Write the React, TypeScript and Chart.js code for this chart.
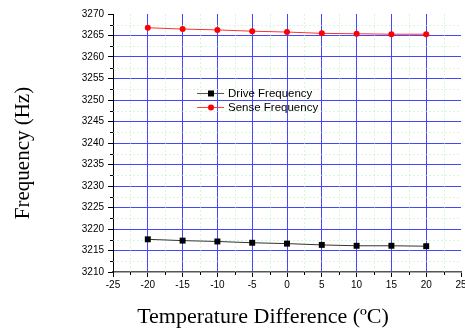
import React, { useEffect, useRef } from "react";
import { Chart, registerables } from "chart.js";

Chart.register(...registerables);

const temps = [-20, -15, -10, -5, 0, 5, 10, 15, 20];
const driveFreq = [3217.6, 3217.3, 3217.1, 3216.8, 3216.6, 3216.3, 3216.1, 3216.1, 3216.0];
const senseFreq = [3266.8, 3266.5, 3266.3, 3266.0, 3265.8, 3265.5, 3265.4, 3265.3, 3265.3];
const xMinorTicks = [-22.5, -17.5, -12.5, -7.5, -2.5, 2.5, 7.5, 12.5, 17.5, 22.5];
const yMinorTicks = [3212.5, 3217.5, 3222.5, 3227.5, 3232.5, 3237.5, 3242.5, 3247.5, 3252.5, 3257.5, 3262.5, 3267.5];
const seriesNames = ["Drive Frequency", "Sense Frequency"];
const xTitle = "Temperature Difference (ºC)";
const yTitle = "Frequency (Hz)";

const GRID_BLUE = "rgba(60,60,255,0.95)";
const SANS = "Arial, 'Liberation Sans', sans-serif";
const SERIF = "'Times New Roman', 'Liberation Serif', serif";

const decorPlugin = {
  id: "decor",
  beforeDatasetsDraw(chart: any) {
    const { ctx, chartArea } = chart;
    const xs = chart.scales.x;
    const ys = chart.scales.y;
    ctx.save();
    // minor grid
    ctx.strokeStyle = "rgba(190,240,190,0.6)";
    ctx.lineWidth = 1;
    ctx.setLineDash([2, 2]);
    xMinorTicks.forEach((v) => {
      const px = Math.round(xs.getPixelForValue(v)) + 0.5;
      ctx.beginPath();
      ctx.moveTo(px, chartArea.top);
      ctx.lineTo(px, chartArea.bottom);
      ctx.stroke();
    });
    yMinorTicks.forEach((v) => {
      const py = Math.round(ys.getPixelForValue(v)) + 0.5;
      ctx.beginPath();
      ctx.moveTo(chartArea.left, py);
      ctx.lineTo(chartArea.right, py);
      ctx.stroke();
    });
    ctx.setLineDash([]);
    // minor ticks
    ctx.strokeStyle = "#000";
    xMinorTicks.forEach((v) => {
      const px = Math.round(xs.getPixelForValue(v)) + 0.5;
      ctx.beginPath();
      ctx.moveTo(px, chartArea.bottom);
      ctx.lineTo(px, chartArea.bottom + 3);
      ctx.stroke();
    });
    yMinorTicks.forEach((v) => {
      const py = Math.round(ys.getPixelForValue(v)) + 0.5;
      ctx.beginPath();
      ctx.moveTo(chartArea.left - 3, py);
      ctx.lineTo(chartArea.left, py);
      ctx.stroke();
    });
    ctx.restore();
  },
  afterDraw(chart: any) {
    const { ctx } = chart;
    ctx.save();
    // legend
    const rows = [
      { y: 93, color: "#000", line: "#555", style: "rect" },
      { y: 107, color: "#ff0000", line: "#ff4040", style: "circle" },
    ];
    rows.forEach((r, i) => {
      ctx.strokeStyle = r.line;
      ctx.lineWidth = 1;
      ctx.beginPath();
      ctx.moveTo(197, r.y + 0.5);
      ctx.lineTo(224, r.y + 0.5);
      ctx.stroke();
      ctx.fillStyle = r.color;
      if (r.style === "rect") {
        ctx.fillRect(208, r.y - 2.5, 6, 6);
      } else {
        ctx.beginPath();
        ctx.arc(211, r.y + 0.5, 3, 0, Math.PI * 2);
        ctx.fill();
      }
      ctx.fillStyle = "#000";
      ctx.font = `11.5px ${SANS}`;
      ctx.textBaseline = "middle";
      ctx.textAlign = "left";
      ctx.fillText(seriesNames[i], 228, r.y + 1);
    });
    // axis titles
    ctx.fillStyle = "#000";
    ctx.font = `22px ${SERIF}`;
    ctx.textAlign = "center";
    ctx.textBaseline = "alphabetic";
    ctx.fillText(xTitle, 263, 323);
    ctx.translate(29, 153);
    ctx.rotate(-Math.PI / 2);
    ctx.font = `21px ${SERIF}`;
    ctx.textBaseline = "alphabetic";
    ctx.fillText(yTitle, 0, 0);
    ctx.restore();
  },
};

export default function App() {
  const ref = useRef<HTMLCanvasElement | null>(null);
  useEffect(() => {
    if (!ref.current) return;
    const chart = new Chart(ref.current, {
      type: "line",
      data: {
        datasets: [
          {
            label: seriesNames[0],
            data: temps.map((t, i) => ({ x: t, y: driveFreq[i] })),
            borderColor: "#333",
            backgroundColor: "#000",
            borderWidth: 1,
            pointStyle: "rect",
            pointRadius: 4.2,
            pointBorderWidth: 0,
            tension: 0,
          },
          {
            label: seriesNames[1],
            data: temps.map((t, i) => ({ x: t, y: senseFreq[i] })),
            borderColor: "#ff3030",
            backgroundColor: "#ff0000",
            borderWidth: 1,
            pointStyle: "circle",
            pointRadius: 3,
            pointBorderWidth: 0,
            tension: 0,
          },
        ],
      },
      options: {
        responsive: false,
        animation: false,
        devicePixelRatio: 1,
        layout: { padding: { left: 0, top: 14, right: 19, bottom: 0 } },
        plugins: { legend: { display: false }, tooltip: { enabled: false }, title: { display: false } },
        scales: {
          x: {
            type: "linear",
            min: -25,
            max: 25,
            afterFit: (s: any) => {
              s.height = 58;
            },
            ticks: {
              stepSize: 5,
              color: "#000",
              font: { size: 10, family: SANS },
              padding: 2,
              maxRotation: 0,
              autoSkip: false,
              callback: (v: any) => String(v),
            },
            grid: {
              color: (c: any) =>
                c.tick && (c.tick.value === -25 || c.tick.value === 25) ? "rgba(0,0,0,0)" : GRID_BLUE,
              tickColor: "#000",
              tickLength: 5,
              lineWidth: 1,
            },
            border: { color: "#555", width: 1.5 },
          },
          y: {
            type: "linear",
            min: 3210,
            max: 3270,
            afterFit: (s: any) => {
              s.width = 113;
            },
            ticks: {
              stepSize: 5,
              color: "#000",
              font: { size: 10, family: SANS },
              padding: 4,
              autoSkip: false,
              callback: (v: any) => String(v),
            },
            grid: {
              color: (c: any) =>
                c.tick && (c.tick.value === 3210 || c.tick.value === 3270) ? "rgba(0,0,0,0)" : GRID_BLUE,
              tickColor: "#000",
              tickLength: 5,
              lineWidth: 1,
            },
            border: { color: "#000", width: 1 },
          },
        },
      },
      plugins: [decorPlugin],
    } as any);
    return () => chart.destroy();
  }, []);
  return (
    <div
      style={{
        position: "fixed",
        left: 0,
        top: 0,
        width: 465,
        height: 330,
        overflow: "hidden",
        background: "#fff",
      }}
    >
      <canvas ref={ref} width={480} height={330} style={{ display: "block" }} />
    </div>
  );
}
